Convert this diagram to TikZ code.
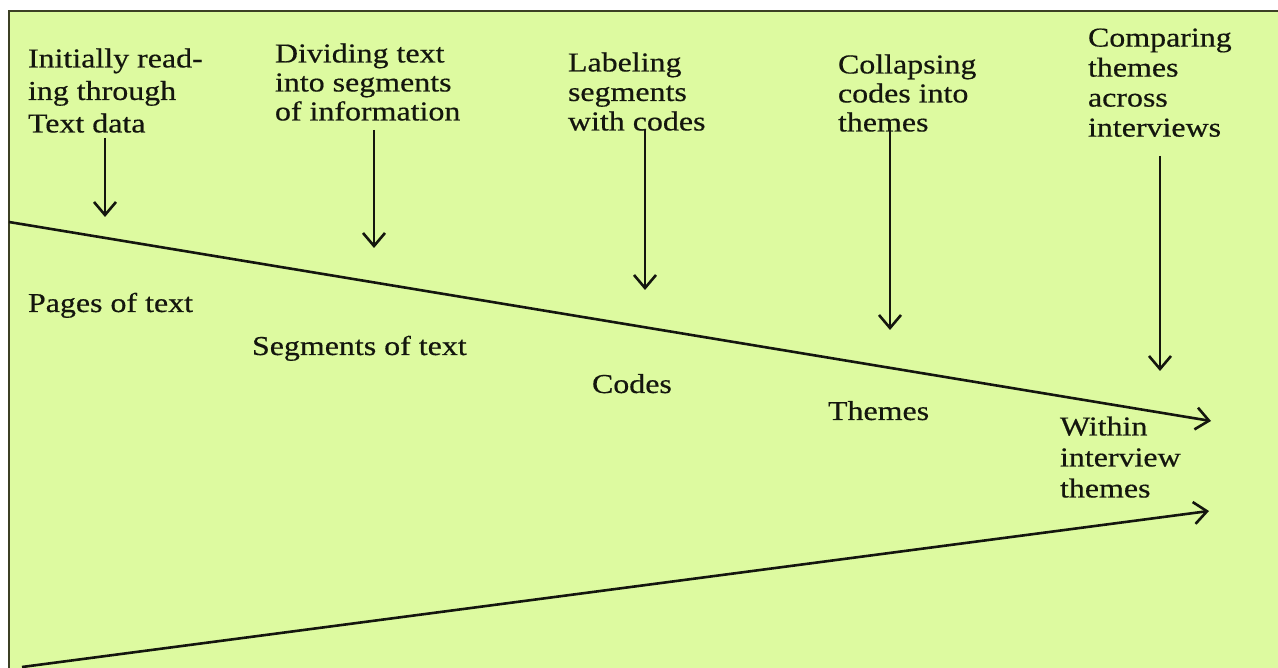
\documentclass[tikz,border=0pt]{standalone}
\usepackage{fontspec}
\setmainfont{Liberation Serif}[FakeStretch=1.17,FakeBold=0.5]
\usetikzlibrary{arrows.meta}
\definecolor{bgreen}{RGB}{221,250,160}
\definecolor{frame}{RGB}{60,64,36}
\definecolor{ink}{RGB}{20,22,14}
\tikzset{
  lbl/.style={inner sep=0pt, outer sep=0pt, text=ink, align=left, anchor=north west},
  one/.style={inner sep=0pt, outer sep=0pt, text=ink, anchor=base west, font=\fontsize{27.3}{30}\selectfont},
  arr/.style={draw=ink, line width=2.6pt, -{Straight Barb[length=13pt,width=22pt,line width=2.6pt]}},
}
\begin{document}
\begin{tikzpicture}[x=1pt,y=-1pt]
\useasboundingbox (0,0) rectangle (1278,668);
\fill[white] (0,0) rectangle (1278,668);
\fill[bgreen] (9,11) rectangle (1278,668);
\draw[frame, line width=2.2pt] (9,668) -- (9,11) -- (1278,11);

% top labels
\node[lbl, font=\fontsize{27.3}{32.5}\selectfont] (t1) at (28,48.5) {Initially read-\\ing through\\Text data};
\node[lbl, font=\fontsize{27.3}{29}\selectfont] (t2) at (275,43.5) {Dividing text\\into segments\\of information};
\node[lbl, font=\fontsize{27.3}{29.5}\selectfont] (t3) at (568,52.5) {Labeling\\segments\\with codes};
\node[lbl, font=\fontsize{27.3}{29}\selectfont] (t4) at (838,54.5) {Collapsing\\codes into\\themes};
\node[lbl, font=\fontsize{27.3}{30}\selectfont] (t5) at (1088,28.5) {Comparing\\themes\\across\\interviews};

% lower labels
\node[one] (pages) at (28,312) {Pages of text};
\node[one] (segs) at (252,355) {Segments of text};
\node[one] (codes) at (592,393) {Codes};
\node[one] (themes) at (828,420) {Themes};
\node[lbl, font=\fontsize{27.3}{31}\selectfont] (within) at (1060,416.5) {Within\\interview\\themes};

% vertical arrows
\coordinate (a1s) at (105,138); \coordinate (a1e) at (105,217);
\coordinate (a2s) at (374,130); \coordinate (a2e) at (374,248);
\coordinate (a3s) at (645,130); \coordinate (a3e) at (645,290);
\coordinate (a4s) at (890,128); \coordinate (a4e) at (890,330);
\coordinate (a5s) at (1160,156); \coordinate (a5e) at (1160,371);
\draw[arr] (a1s) -- (a1e);
\draw[arr] (a2s) -- (a2e);
\draw[arr] (a3s) -- (a3e);
\draw[arr] (a4s) -- (a4e);
\draw[arr] (a5s) -- (a5e);

% funnel lines
\coordinate (u0) at (9,222); \coordinate (u1) at (1211,421);
\coordinate (l0) at (22,667); \coordinate (l1) at (1209,511);
\draw[arr] (u0) -- (u1);
\draw[arr] (l0) -- (l1);
\end{tikzpicture}
\end{document}
